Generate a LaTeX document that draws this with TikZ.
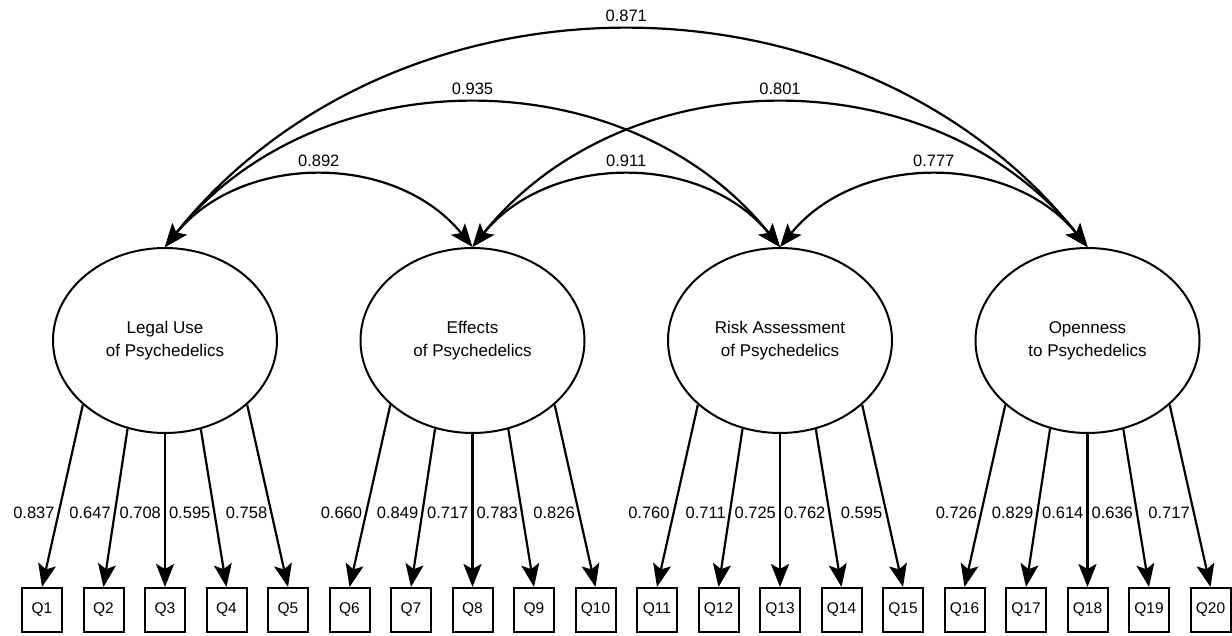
\documentclass[tikz,border=0pt]{standalone}
\usepackage{fontspec}
\setmainfont{Liberation Sans}
\usetikzlibrary{arrows.meta,shapes.geometric}
\begin{document}
\begin{tikzpicture}[x=1pt,y=-1pt,
  lat/.style={ellipse, draw, line width=2pt, minimum width=224pt, minimum height=185pt, inner sep=0pt, align=center, font=\fontsize{17}{23}\selectfont},
  obs/.style={draw, line width=2pt, minimum width=40pt, minimum height=44pt, inner sep=0pt, font=\fontsize{15.5}{18}\selectfont},
  load/.style={line width=2.2pt, -{Stealth[length=23pt,width=18pt,inset=5pt]}},
  corr/.style={line width=2.2pt, {Stealth[length=23pt,width=18pt,inset=5pt]}-{Stealth[length=23pt,width=18pt,inset=5pt]}},
  lab/.style={font=\fontsize{16.5}{18}\selectfont, inner sep=0pt},
  llab/.style={lab, anchor=east, xshift=-3pt},
  clab/.style={lab, anchor=south, yshift=8pt},
]
\useasboundingbox (0,0) rectangle (1232,636);

% observed items
\foreach \i in {1,...,20}
  \node[obs] (Q\i) at ({42+(\i-1)*61.5},610) {Q\i};

% latent variables
\node[lat] (L) at (165,340.5) {Legal Use\\of Psychedelics};
\node[lat] (E) at (472.5,340.5) {Effects\\of Psychedelics};
\node[lat] (R) at (780,340.5) {Risk Assessment\\of Psychedelics};
\node[lat] (O) at (1087.5,340.5) {Openness\\to Psychedelics};

% loadings
\draw[load] (L.218)   -- node[llab, pos=0.592] {0.837} (Q1.north);
\draw[load] (L.247.4) -- node[llab, pos=0.531] {0.647} (Q2.north);
\draw[load] (L.270)   -- node[llab, pos=0.516] {0.708} (Q3.north);
\draw[load] (L.292.6) -- node[llab, pos=0.531] {0.595} (Q4.north);
\draw[load] (L.322)   -- node[llab, pos=0.592] {0.758} (Q5.north);

\draw[load] (E.218)   -- node[llab, pos=0.592] {0.660} (Q6.north);
\draw[load] (E.247.4) -- node[llab, pos=0.531] {0.849} (Q7.north);
\draw[load] (E.270)   -- node[llab, pos=0.516] {0.717} (Q8.north);
\draw[load] (E.292.6) -- node[llab, pos=0.531] {0.783} (Q9.north);
\draw[load] (E.322)   -- node[llab, pos=0.592] {0.826} (Q10.north);

\draw[load] (R.218)   -- node[llab, pos=0.592] {0.760} (Q11.north);
\draw[load] (R.247.4) -- node[llab, pos=0.531] {0.711} (Q12.north);
\draw[load] (R.270)   -- node[llab, pos=0.516] {0.725} (Q13.north);
\draw[load] (R.292.6) -- node[llab, pos=0.531] {0.762} (Q14.north);
\draw[load] (R.322)   -- node[llab, pos=0.592] {0.595} (Q15.north);

\draw[load] (O.218)   -- node[llab, pos=0.592] {0.726} (Q16.north);
\draw[load] (O.247.4) -- node[llab, pos=0.531] {0.829} (Q17.north);
\draw[load] (O.270)   -- node[llab, pos=0.516] {0.614} (Q18.north);
\draw[load] (O.292.6) -- node[llab, pos=0.531] {0.636} (Q19.north);
\draw[load] (O.322)   -- node[llab, pos=0.592] {0.717} (Q20.north);

% correlations
\draw[corr] (L.north) .. controls +(230,-288) and +(-230,-288) .. node[clab, pos=0.5] {0.871} (O.north);
\draw[corr] (L.north) .. controls +(153,-190.7) and +(-153,-190.7) .. node[clab, pos=0.5] {0.935} (R.north);
\draw[corr] (E.north) .. controls +(153,-190.7) and +(-153,-190.7) .. node[clab, pos=0.5] {0.801} (O.north);
\draw[corr] (L.north) .. controls +(77,-94.7) and +(-77,-94.7) .. node[clab, pos=0.5] {0.892} (E.north);
\draw[corr] (E.north) .. controls +(77,-94.7) and +(-77,-94.7) .. node[clab, pos=0.5] {0.911} (R.north);
\draw[corr] (R.north) .. controls +(77,-94.7) and +(-77,-94.7) .. node[clab, pos=0.5] {0.777} (O.north);
\end{tikzpicture}
\end{document}
